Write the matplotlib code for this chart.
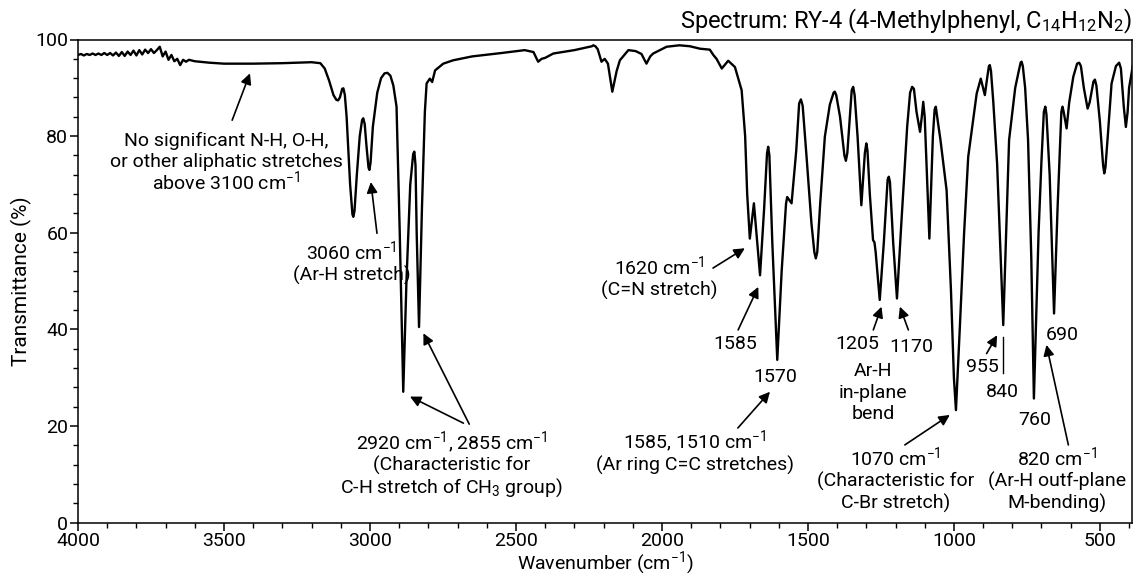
import matplotlib
matplotlib.use("Agg")
import matplotlib.pyplot as plt

plt.rcParams['font.family'] = ['Roboto', 'DejaVu Sans']
plt.rcParams['mathtext.fontset'] = 'custom'
plt.rcParams['mathtext.rm'] = 'Roboto'
plt.rcParams['mathtext.it'] = 'Roboto:italic'
plt.rcParams['mathtext.bf'] = 'Roboto:bold'

# ---- data ----
wavenumber = [
    4000, 3990, 3980, 3970, 3960, 3950, 3940, 3930, 3920, 3910, 3900, 3890, 3880,
    3870, 3860, 3850, 3840, 3830, 3820, 3810, 3800, 3790, 3780, 3770, 3760, 3750,
    3740, 3730, 3720, 3710, 3700, 3690, 3680, 3670, 3660, 3650, 3640, 3630, 3620,
    3600, 3550, 3500, 3400, 3300, 3200, 3170, 3155, 3140, 3125, 3115, 3109, 3103,
    3095, 3091, 3086, 3080, 3068, 3060, 3057, 3053, 3045, 3035, 3027, 3023, 3018,
    3012, 3005, 3002, 2998, 2990, 2975, 2962, 2950, 2940, 2930, 2920, 2909, 2898,
    2886, 2875, 2862, 2852, 2848, 2844, 2840, 2832, 2822, 2812, 2806, 2795, 2787,
    2777, 2749, 2715, 2650, 2550, 2470, 2440, 2424, 2412, 2400, 2372, 2300, 2240,
    2235, 2228, 2220, 2207, 2196, 2185, 2170, 2155, 2144, 2115, 2090, 2070, 2053,
    2040, 2030, 1984, 1940, 1904, 1870, 1836, 1824, 1813, 1795, 1773, 1750, 1727,
    1715, 1708, 1699, 1685, 1664, 1650, 1640, 1636, 1632, 1622, 1605, 1590, 1575,
    1571, 1556, 1540, 1530, 1524, 1518, 1505, 1488, 1478, 1473, 1468, 1458, 1442,
    1425, 1412, 1408, 1403, 1390, 1375, 1370, 1365, 1350, 1345, 1340, 1330, 1317,
    1305, 1300, 1296, 1288, 1277, 1272, 1268, 1254, 1240, 1227, 1223, 1219, 1208,
    1195, 1180, 1160, 1150, 1143, 1137, 1128, 1116, 1110, 1105, 1100, 1084, 1072,
    1066, 1062, 1055, 1046, 1025, 1010, 1000, 993, 980, 965, 951, 922, 908, 894,
    885, 880, 877, 873, 865, 852, 831, 820, 811, 790, 776, 771, 768, 764, 756,
    746, 735, 726, 710, 700, 692, 687, 683, 672, 657, 645, 632, 628, 624, 614,
    605, 591, 578, 571, 565, 555, 542, 535, 522, 517, 512, 500, 489, 485, 481,
    473, 460, 445, 434, 428, 418, 411, 405, 400, 384,
]
transmittance = [
    96.8, 97.0, 96.7, 97.0, 96.8, 97.1, 96.8, 97.1, 96.8, 97.2, 96.8, 97.2, 96.7,
    97.3, 96.6, 97.4, 96.6, 97.5, 96.8, 97.7, 96.7, 97.8, 96.9, 97.9, 97.2, 98.0,
    97.2, 97.8, 98.5, 96.5, 97.5, 95.8, 96.8, 95.5, 96.0, 94.7, 95.8, 95.4, 95.8,
    95.5, 95.2, 95.0, 95.0, 95.1, 95.3, 95.1, 94.0, 91.5, 88.5, 87.5, 87.4, 88.0,
    89.8, 89.9, 88.5, 84.0, 70.0, 63.8, 63.3, 64.5, 72.0, 80.0, 83.3, 83.7, 82.5,
    78.0, 73.5, 73.0, 74.5, 82.0, 89.0, 92.0, 93.0, 93.1, 92.5, 90.5, 86.1, 60.0,
    27.1, 50.0, 70.0, 76.3, 76.8, 74.0, 60.0, 40.5, 65.0, 85.0, 90.9, 91.9, 91.2,
    93.6, 95.0, 95.7, 96.5, 97.2, 97.8, 97.4, 95.4, 96.0, 96.2, 97.1, 97.8, 98.6,
    98.8, 98.6, 98.0, 95.4, 96.0, 95.0, 89.2, 93.5, 95.7, 97.8, 97.6, 97.0, 95.0,
    96.5, 97.1, 98.5, 98.8, 98.6, 98.1, 97.9, 96.8, 96.0, 94.0, 95.6, 94.3, 89.5,
    80.0, 68.0, 58.8, 66.1, 51.2, 65.0, 76.5, 77.8, 76.0, 58.0, 33.7, 52.0, 66.0,
    67.4, 66.1, 77.0, 86.8, 87.6, 86.3, 76.0, 62.0, 56.0, 54.7, 56.0, 66.0, 79.9,
    86.5, 89.0, 89.2, 88.5, 84.0, 76.0, 74.9, 76.5, 89.5, 90.2, 88.5, 80.0, 65.7,
    76.5, 78.5, 77.0, 68.0, 58.5, 58.0, 56.0, 46.1, 58.0, 71.0, 71.6, 70.5, 58.0,
    46.4, 62.0, 82.0, 89.0, 90.2, 89.8, 85.0, 80.9, 84.0, 87.1, 84.0, 58.8, 80.0,
    85.5, 86.1, 83.0, 79.2, 68.8, 48.0, 30.0, 23.3, 40.0, 60.0, 75.7, 88.8, 91.9, 88.5,
    92.5, 94.5, 94.7, 93.5, 87.0, 74.3, 40.9, 62.0, 79.2, 90.0, 94.0, 95.3, 95.4, 94.5, 90.0,
    79.2, 55.0, 25.7, 60.0, 75.0, 85.0, 86.1, 84.5, 72.0, 43.3, 65.0, 85.0, 86.1, 85.0, 81.6,
    87.0, 92.3, 95.0, 95.2, 94.5, 90.0, 85.7, 87.0, 91.3, 91.7, 90.5, 83.0, 74.0, 72.3, 73.5,
    80.0, 90.9, 94.5, 95.2, 94.0, 86.0, 81.9, 85.0, 90.0, 95.7,
]

x_ticks = [4000, 3500, 3000, 2500, 2000, 1500, 1000, 500]
y_ticks = [0, 20, 40, 60, 80, 100]

title = r"Spectrum: RY-4 (4-Methylphenyl, C$_{14}$H$_{12}$N$_{2}$)"

# text labels: (lines, x, y)
labels = [
    (["No significant N-H, O-H,", "or other aliphatic stretches", "above 3100 cm$^{-1}$"], 3493, 75.0),
    (["3060 cm$^{-1}$", "(Ar-H stretch)"], 3062, 53.8),
    (["2920 cm$^{-1}$, 2855 cm$^{-1}$", "(Characteristic for", "C-H stretch of CH$_3$ group)"], 2720, 12.2),
    (["1620 cm$^{-1}$", "(C=N stretch)"], 2010, 50.7),
    (["1585"], 1750, 37.4),
    (["1570"], 1613, 30.6),
    (["1585, 1510 cm$^{-1}$", "(Ar ring C=C stretches)"], 1887, 14.5),
    (["1205"], 1331, 37.4),
    (["1170"], 1145, 36.8),
    (["Ar-H", "in-plane", "bend"], 1276, 27.3),
    (["1070 cm$^{-1}$", "(Characteristic for", "C-Br stretch)"], 1199, 8.8),
    (["955"], 902, 32.6),
    (["840"], 834, 27.5),
    (["760"], 723, 21.6),
    (["690"], 629, 39.3),
    (["820 cm$^{-1}$", "(Ar-H outf-plane", "M-bending)"], 647, 8.8),
]
# arrows: (tail_x, tail_y, head_x, head_y)
arrows = [
    (3472, 83.3, 3411, 93.0),
    (2976, 59.9, 2997, 70.5),
    (2680, 20.6, 2863, 26.1),
    (2660, 20.4, 2817, 39.2),
    (1825, 52.7, 1716, 56.8),
    (1739, 39.9, 1670, 48.8),
    (1740, 19.6, 1630, 27.1),
    (1276, 39.9, 1248, 44.7),
    (1156, 39.9, 1185, 44.7),
    (1168, 16.1, 1014, 22.3),
    (888, 35.0, 852, 38.8),
    (608, 16.1, 683, 36.8),
]
plain_lines = [
    (833, 30.9, 833, 38.5),
]

fig = plt.figure(figsize=(11.34, 5.75), dpi=100)
ax = fig.add_axes([78/1134, 1 - 522.7/575, (1132 - 78)/1134, (522.7 - 39.5)/575])

ax.plot(wavenumber, transmittance, color='black', lw=1.7, solid_joinstyle='round')

ax.set_xlim(4000, 390)
ax.set_ylim(0, 100)
ax.set_xticks(x_ticks)
ax.set_xticks(range(4000, 389, -100), minor=True)
ax.set_yticks(y_ticks)
ax.set_yticks(range(0, 101, 4), minor=True)
ax.tick_params(axis='both', which='major', direction='out', length=6, width=1.1,
               labelsize=14, pad=1)
ax.tick_params(axis='both', which='minor', direction='out', length=3.5, width=1.0)
for s in ax.spines.values():
    s.set_linewidth(1.1)

ax.set_xlabel("Wavenumber (cm$^{-1}$)", fontsize=14)
ax.xaxis.set_label_coords(0.5, -0.055)
ax.set_ylabel("Transmittance (%)", fontsize=15)
ax.yaxis.set_label_coords(-0.044, 0.5)
ax.text(1.0, 1.008, title, transform=ax.transAxes, ha='right', va='bottom', fontsize=17)

FS = 14
SPACING = 15.6   # points between baselines
CAP_HALF = 5.0   # half cap height in points
for lines, x, y in labels:
    n = len(lines)
    for i, line in enumerate(lines):
        dy = ((n - 1) / 2 - i) * SPACING - CAP_HALF
        ax.annotate(line, xy=(x, y), xytext=(0, dy), textcoords='offset points',
                    ha='center', va='baseline', fontsize=FS)

for tx, ty, hx, hy in arrows:
    ax.annotate('', xy=(hx, hy), xytext=(tx, ty),
                arrowprops=dict(arrowstyle='-|>', color='black', lw=1.2,
                                mutation_scale=16, shrinkA=0, shrinkB=0))
for x0, y0, x1, y1 in plain_lines:
    ax.plot([x0, x1], [y0, y1], color='black', lw=1.0)

fig.savefig("out.png", dpi=100)
